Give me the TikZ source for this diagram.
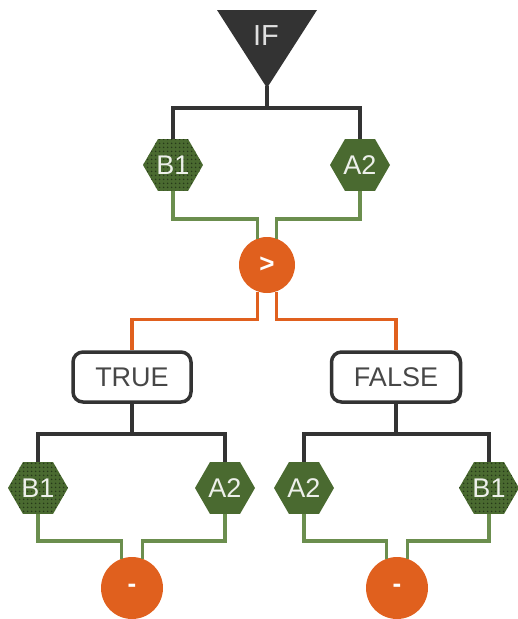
\documentclass[tikz,border=0pt]{standalone}
\usepackage{fontspec}
\setmainfont{Liberation Sans}
\usetikzlibrary{shapes.geometric, patterns.meta, calc}
\definecolor{ifgray}{HTML}{333333}
\definecolor{hexgreen}{HTML}{4A6A30}
\definecolor{dotgreen}{HTML}{26391A}
\definecolor{wiregreen}{HTML}{6B8E4E}
\definecolor{oporange}{HTML}{E0601E}

\begin{document}
\begin{tikzpicture}[
    x=1pt, y=-1pt,
    hexa/.style={regular polygon, regular polygon sides=6, minimum size=60pt, inner sep=0pt, fill=hexgreen, text=white!90!hexgreen, font=\fontsize{27}{30}\selectfont},
    dotted hexa/.style={hexa, postaction={pattern={Dots[distance=4pt, radius=1pt]}, pattern color=dotgreen}},
    op/.style={circle, fill=oporange, minimum size=#1, inner sep=0pt, text=white, font=\fontsize{26}{30}\selectfont\bfseries},
    truth/.style={rectangle, rounded corners=10pt, draw=ifgray, line width=3.5pt, fill=white, minimum height=50pt, text=ifgray!90, font=\fontsize{27}{30}\selectfont},
    darkwire/.style={draw=ifgray, line width=3.5pt},
    greenwire/.style={draw=wiregreen, line width=3.5pt},
    orangewire/.style={draw=oporange, line width=3.5pt}
]
    \useasboundingbox (0,0) rectangle (518,619);

    % IF triangle
    \fill[ifgray] (217,10) -- (317,10) -- (267,88) -- cycle;
    \coordinate (ifapex) at (267,86);
    \node[text=white!85!ifgray, font=\fontsize{29}{32}\selectfont] (if) at (266,36) {IF};

    \node[dotted hexa] (hb1) at (173,165) {B1};
    \node[hexa] (ha2) at (360,165) {A2};
    \node[op=56pt] (gt) at (267,265) {>};

    \node[truth, minimum width=118pt] (ttrue) at (132,377) {TRUE};
    \node[truth, minimum width=129pt] (tfalse) at (396,377) {FALSE};

    \node[dotted hexa] (tb1) at (38,488) {B1};
    \node[hexa] (ta2) at (225,488) {A2};
    \node[hexa] (fa2) at (304,488) {A2};
    \node[dotted hexa] (fb1) at (489,488) {B1};

    \node[op=62pt] (mt) at (132,588) {-};
    \node[op=62pt] (mf) at (397,588) {-};

    \draw[darkwire] (ifapex) -- ++(0,22) -| (hb1.north);
    \draw[darkwire] (ifapex) -- ++(0,22) -| (ha2.north);
    \draw[greenwire] (hb1.south) -- ++(0,28) -| (gt.110);
    \draw[greenwire] (ha2.south) -- ++(0,28) -| (gt.70);
    \draw[orangewire] (gt.250) -- ++(0,28) -| (ttrue.north);
    \draw[orangewire] (gt.290) -- ++(0,28) -| (tfalse.north);

    \draw[darkwire] (ttrue.south) -- ++(0,30) -| (tb1.north);
    \draw[darkwire] (ttrue.south) -- ++(0,30) -| (ta2.north);
    \draw[darkwire] (tfalse.south) -- ++(0,30) -| (fa2.north);
    \draw[darkwire] (tfalse.south) -- ++(0,30) -| (fb1.north);

    \draw[greenwire] (tb1.south) -- ++(0,27) -| (mt.110);
    \draw[greenwire] (ta2.south) -- ++(0,27) -| (mt.70);
    \draw[greenwire] (fa2.south) -- ++(0,27) -| (mf.110);
    \draw[greenwire] (fb1.south) -- ++(0,27) -| (mf.70);
\end{tikzpicture}
\end{document}
